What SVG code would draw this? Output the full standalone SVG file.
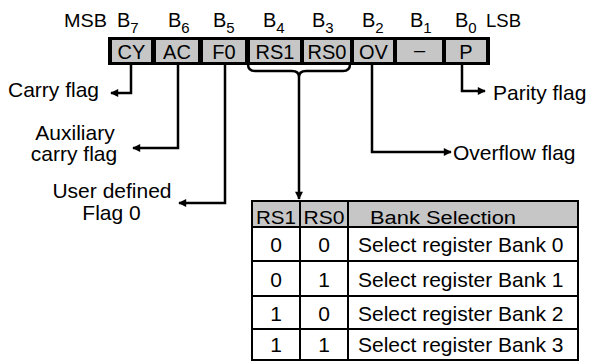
<svg xmlns="http://www.w3.org/2000/svg" width="589" height="362" viewBox="0 0 589 362">
<defs>
<marker id="ah" viewBox="0 0 10 10" refX="9" refY="5" markerWidth="10" markerHeight="8" markerUnits="userSpaceOnUse" orient="auto">
<path d="M0,0 L10,5 L0,10 Z" fill="#000"/>
</marker>
<style>
text{font-family:"Liberation Sans",Arial,sans-serif;fill:#000}
.lbl{font-size:21px}
.hd{font-size:18px}
.bit{font-size:20px}
.sub{font-size:15px}
.cell{font-size:20px;text-anchor:middle}
.mid{text-anchor:middle}
.gray{fill:#c6c6c6}
.conn{fill:none;stroke:#000;stroke-width:2.5}
.tl{stroke:#000;stroke-width:2}
</style>
</defs>
<rect width="589" height="362" fill="#fff"/>

<g id="bit-labels">
<text x="64" y="27" class="hd" textLength="43" lengthAdjust="spacingAndGlyphs">MSB</text>
<text x="117" y="27" class="bit">B<tspan class="sub" dy="6">7</tspan></text>
<text x="168" y="27" class="bit">B<tspan class="sub" dy="6">6</tspan></text>
<text x="213" y="27" class="bit">B<tspan class="sub" dy="6">5</tspan></text>
<text x="263" y="27" class="bit">B<tspan class="sub" dy="6">4</tspan></text>
<text x="312" y="27" class="bit">B<tspan class="sub" dy="6">3</tspan></text>
<text x="362" y="27" class="bit">B<tspan class="sub" dy="6">2</tspan></text>
<text x="410" y="27" class="bit">B<tspan class="sub" dy="6">1</tspan></text>
<text x="455" y="27" class="bit">B<tspan class="sub" dy="6">0</tspan></text>
<text x="486" y="27" class="hd" textLength="35" lengthAdjust="spacingAndGlyphs">LSB</text>
</g>

<g id="register">
<rect x="108" y="37" width="382" height="28" fill="#000"/>
<g id="cell-CY"><rect x="112" y="40" width="39" height="22" class="gray"/><text x="131.5" y="59" class="cell">CY</text></g>
<g id="cell-AC"><rect x="156" y="40" width="42" height="22" class="gray"/><text x="177" y="59" class="cell">AC</text></g>
<g id="cell-F0"><rect x="203" y="40" width="42" height="22" class="gray"/><text x="224" y="59" class="cell">F0</text></g>
<g id="cell-RS1"><rect x="250" y="40" width="50" height="22" class="gray"/><text x="275" y="59" class="cell">RS1</text></g>
<g id="cell-RS0"><rect x="304" y="40" width="46" height="22" class="gray"/><text x="327" y="59" class="cell">RS0</text></g>
<g id="cell-OV"><rect x="354" y="40" width="39" height="22" class="gray"/><text x="373.5" y="59" class="cell">OV</text></g>
<g id="cell-B1"><rect x="397" y="40" width="45" height="22" class="gray"/><text x="419.5" y="57" class="cell">–</text></g>
<g id="cell-P"><rect x="446" y="40" width="40" height="22" class="gray"/><text x="466" y="59" class="cell">P</text></g>
</g>

<g id="connectors">
<path class="conn" d="M131,65 V93 H111" marker-end="url(#ah)"/>
<path class="conn" d="M178,65 V148 H133" marker-end="url(#ah)"/>
<path class="conn" d="M225,65 V203 H179" marker-end="url(#ah)"/>
<path class="conn" d="M248,64 Q248,71 255,71 L292,71 Q299,71 299,77 Q299,71 306,71 L343,71 Q350,71 350,64"/>
<path class="conn" d="M299,77 V199" marker-end="url(#ah)"/>
<path class="conn" d="M372,65 V152 H451" marker-end="url(#ah)"/>
<path class="conn" d="M462,65 V91 H485" marker-end="url(#ah)"/>
</g>

<g id="carry-flag"><text x="8" y="97" class="lbl">Carry flag</text></g>
<g id="aux-carry-flag">
<text x="75" y="140" class="lbl mid">Auxiliary</text>
<text x="74" y="161" class="lbl mid">carry flag</text>
</g>
<g id="user-flag0">
<text x="112" y="198" class="lbl mid">User defined</text>
<text x="111.5" y="220" class="lbl mid">Flag 0</text>
</g>
<g id="overflow-flag"><text x="453" y="160" class="lbl">Overflow flag</text></g>
<g id="parity-flag"><text x="493" y="100" class="lbl">Parity flag</text></g>

<g id="bank-table">
<rect x="252" y="201" width="326" height="26" class="gray"/>
<rect x="252" y="201" width="326" height="159" fill="none" class="tl"/>
<line x1="252" y1="227" x2="578" y2="227" class="tl"/>
<line x1="252" y1="261" x2="578" y2="261" class="tl"/>
<line x1="252" y1="296" x2="578" y2="296" class="tl"/>
<line x1="252" y1="329" x2="578" y2="329" class="tl"/>
<line x1="300" y1="201" x2="300" y2="360" class="tl"/>
<line x1="348" y1="201" x2="348" y2="360" class="tl"/>
<text x="276" y="224" class="hd mid" textLength="40" lengthAdjust="spacingAndGlyphs">RS1</text>
<text x="324" y="224" class="hd mid" textLength="41" lengthAdjust="spacingAndGlyphs">RS0</text>
<text x="443" y="224" class="hd mid" textLength="146" lengthAdjust="spacingAndGlyphs">Bank Selection</text>
<text x="276" y="252" class="lbl mid">0</text><text x="324" y="252" class="lbl mid">0</text><text x="358" y="252" class="lbl">Select register Bank 0</text>
<text x="276" y="287" class="lbl mid">0</text><text x="324" y="287" class="lbl mid">1</text><text x="358" y="287" class="lbl">Select register Bank 1</text>
<text x="276" y="321" class="lbl mid">1</text><text x="324" y="321" class="lbl mid">0</text><text x="358" y="321" class="lbl">Select register Bank 2</text>
<text x="276" y="352" class="lbl mid">1</text><text x="324" y="352" class="lbl mid">1</text><text x="358" y="352" class="lbl">Select register Bank 3</text>
</g>
</svg>
